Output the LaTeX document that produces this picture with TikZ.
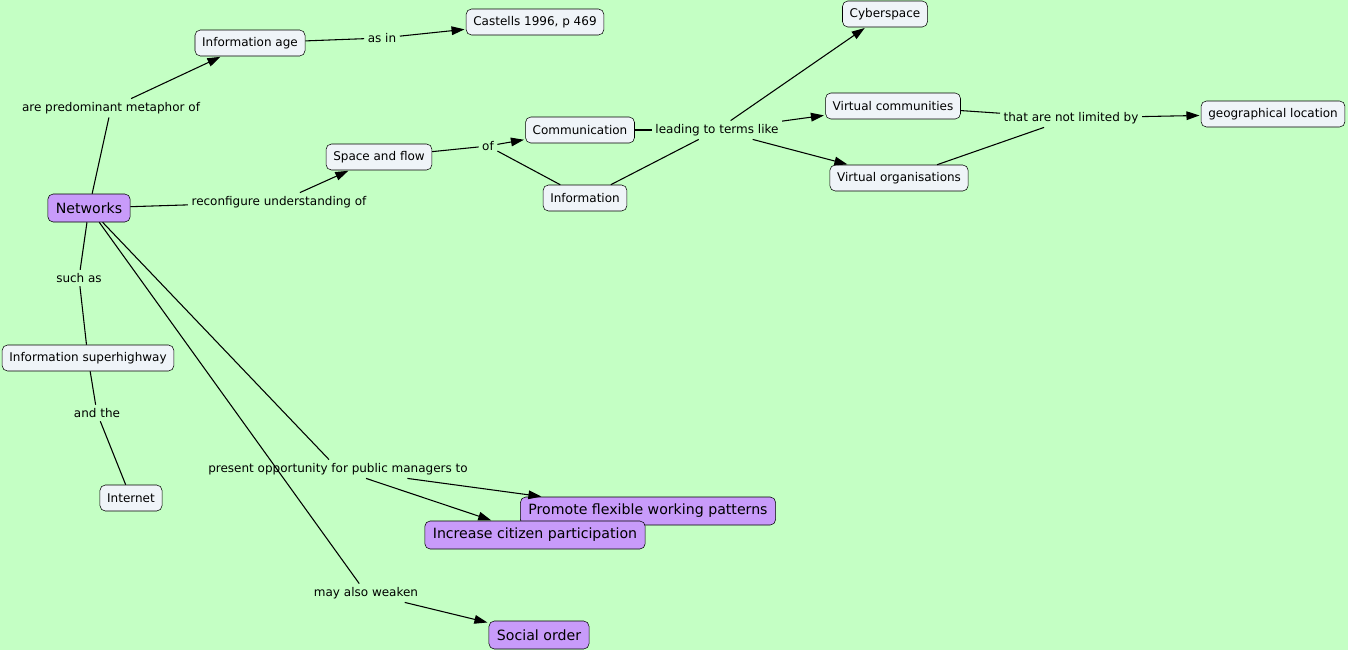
\documentclass[tikz,border=0pt]{standalone}
\usepackage{fontspec}
\setmainfont{DejaVu Sans}
\usepackage{xcolor}
\usepackage{tikz}
\usetikzlibrary{arrows.meta, positioning}

\definecolor{mapbg}{RGB}{196,255,196}
\definecolor{conceptfill}{RGB}{239,244,248}
\definecolor{keyfill}{RGB}{200,155,250}

\begin{document}
\begin{tikzpicture}[
            x=0.75pt, y=-0.75pt,
            % plain concepts
            concept/.style={
                draw, rectangle, rounded corners=4pt,
                minimum height=19.5pt,
                inner xsep=5.4pt,
                fill=conceptfill,
                font=\fontsize{9}{10.5}\selectfont
            },
            % highlighted concepts
            keyconcept/.style={
                concept,
                minimum height=21pt,
                inner xsep=6pt,
                fill=keyfill,
                font=\fontsize{10.6}{12}\selectfont
            },
            % linking phrases
            phrase/.style={
                fill=mapbg, inner sep=2.5pt,
                font=\fontsize{9}{10.5}\selectfont
            },
            link/.style={line width=0.8pt},
            arrow/.style={link, -{Triangle[length=9.75pt, width=6.5pt]}, shorten >=1pt}
        ]

        % Background and frame
        \fill[mapbg] (0,0) rectangle (1348,650);
        \useasboundingbox (0,0) rectangle (1348,650);

        % Concepts
        \node[keyconcept] (networks) at (89,208) {Networks};
        \node[concept] (infoage) at (250,43) {Information age};
        \node[concept] (castells) at (535,22) {Castells 1996, p 469};
        \node[concept] (cyberspace) at (885,14) {Cyberspace};
        \node[concept] (spaceflow) at (379,157) {Space and flow};
        \node[concept] (communication) at (580,130) {Communication};
        \node[concept] (information) at (585,198) {Information};
        \node[concept] (virtcomm) at (893,106) {Virtual communities};
        \node[concept] (virtorg) at (899,178) {Virtual organisations};
        \node[concept] (geoloc) at (1273,114) {geographical location};
        \node[concept] (superhighway) at (88,358) {Information superhighway};
        \node[concept] (internet) at (131,498) {Internet};
        \node[keyconcept] (promote) at (648,511) {Promote flexible working patterns};
        \node[keyconcept] (increase) at (535,535) {Increase citizen participation};
        \node[keyconcept] (social) at (539,635) {Social order};

        % Linking phrases
        \node[phrase] (metaphor) at (111,108) {are predominant metaphor of};
        \node[phrase] (asin) at (382,38) {as in};
        \node[phrase] (reconfigure) at (279,202) {reconfigure understanding of};
        \node[phrase] (of) at (488,146) {of};
        \node[phrase] (leading) at (717,130) {leading to terms like};
        \node[phrase] (notlimited) at (1071,118) {that are not limited by};
        \node[phrase] (suchas) at (79,278) {such as};
        \node[phrase] (andthe) at (97,413) {and the};
        \node[phrase] (present) at (338,469) {present opportunity for public managers to};
        \node[phrase] (weaken) at (366,593) {may also weaken};

        % Connectors
        \draw[link] (networks) -- (metaphor);
        \draw[arrow] (metaphor) -- (infoage);
        \draw[link] (infoage) -- (asin);
        \draw[arrow] (asin) -- (castells);
        \draw[link] (networks) -- (reconfigure);
        \draw[arrow] (reconfigure) -- (spaceflow);
        \draw[link] (spaceflow) -- (of);
        \draw[link] (information) -- (of);
        \draw[arrow] (of) -- (communication);
        \draw[link] (communication) -- (leading);
        \draw[link] (information) -- (leading);
        \draw[arrow] (leading) -- (cyberspace);
        \draw[arrow] (leading) -- (virtcomm);
        \draw[arrow] (leading) -- (virtorg);
        \draw[link] (virtcomm) -- (notlimited);
        \draw[link] (virtorg) -- (notlimited);
        \draw[arrow] (notlimited) -- (geoloc);
        \draw[link] (networks) -- (suchas);
        \draw[link] (suchas) -- (superhighway);
        \draw[link] (superhighway) -- (andthe);
        \draw[link] (andthe) -- (internet);
        \draw[link] (networks) -- (present);
        \draw[arrow] (present) -- (promote);
        \draw[arrow] (present) -- (increase);
        \draw[link] (networks) -- (weaken);
        \draw[arrow] (weaken) -- (social);

\end{tikzpicture}
\end{document}
